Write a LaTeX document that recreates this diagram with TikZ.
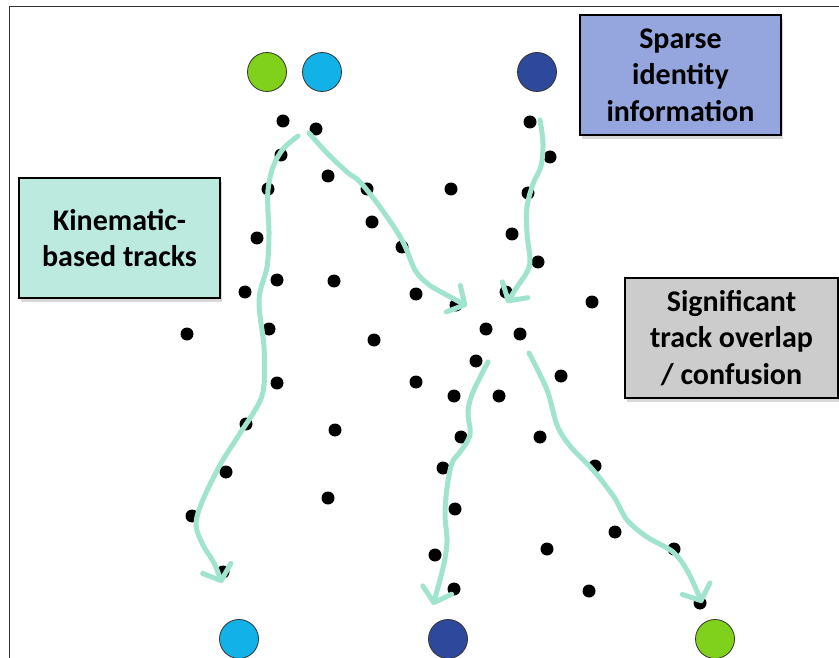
\documentclass[tikz,border=0pt]{standalone}
\usepackage{fontspec}
\setmainfont{Carlito}
\usepackage{xcolor}
\usepackage{tikz}
\usetikzlibrary{shapes,arrows.meta,positioning,shadows,calc}
\definecolor{trackcolor}{RGB}{160,228,208}
\definecolor{idgreen}{RGB}{127,209,27}
\definecolor{idcyan}{RGB}{18,178,232}
\definecolor{idblue}{RGB}{46,73,156}
\definecolor{kinecolor}{RGB}{189,234,223}
\definecolor{sparsecolor}{RGB}{149,166,222}
\definecolor{overlapcolor}{RGB}{204,204,204}

\begin{document}
\begin{tikzpicture}[x=1pt, y=-1pt,
  dot/.style={circle, fill=black, inner sep=0pt, minimum size=13pt},
  ident/.style={circle, draw=black!80, line width=0.8pt, inner sep=0pt, minimum size=39pt},
  infobox/.style={rectangle, draw=black, line width=1.8pt, minimum width=201pt, minimum height=120pt, align=center,
    font=\bfseries\fontsize{30}{36.6}\selectfont, drop shadow={shadow xshift=2pt, shadow yshift=-4pt, opacity=0.3}},
  track/.style={draw=trackcolor, line width=5pt, line cap=round, line join=round,
    -{Straight Barb[length=13pt, width=30pt, round]}}
]

% Canvas and frame
\clip (0,0) rectangle (839,658);
\fill[white] (0,0) rectangle (839,658);
\draw[black!80, line width=1pt] (9.5,6.5) rectangle (870,690);

% Observations
\foreach [count=\i] \px/\py in {283/121, 316/129, 281/155, 328/176, 268/189, 367/189, 451/189, 372/222,
  257/238, 402/247, 277/280, 334/281, 245/292, 187/334, 269/329, 416/294, 456/305, 530/122, 550/157,
  528/193, 512/234, 538/262, 506/292, 592/302, 486/329, 520/334, 374/340, 476/361, 561/376, 277/383,
  416/382, 454/396, 499/396, 246/424, 335/430, 461/437, 540/437, 226/472, 443/468, 595/466, 328/498,
  455/509, 615/532, 192/516, 435/555, 547/549, 674/549, 223/572, 454/589, 589/591, 700/603}
  \node[dot] (dot\i) at (\px,\py) {};

% Identities at start and end
\node[ident, fill=idgreen] (startgreen) at (267,72) {};
\node[ident, fill=idcyan] (startcyan) at (322,72) {};
\node[ident, fill=idblue] (startblue) at (537,72) {};
\node[ident, fill=idcyan] (endcyan) at (239,639) {};
\node[ident, fill=idblue] (endblue) at (448,639) {};
\node[ident, fill=idgreen] (endgreen) at (715,639) {};

% Tracks
\draw[track] plot[smooth, tension=0.55] coordinates {(298,136) (283,149) (273,167) (268,190) (268,212)
  (269,235) (267,267) (259,300) (264,347) (264,385) (258,405) (237,438) (220,465) (202,502) (196,525)
  (203,545) (214,563) (222,583)};
\draw[track] plot[smooth, tension=0.55] coordinates {(309,133) (327,153) (347,172) (360,182) (380,207)
  (402,240) (415,270) (428,284) (443,293) (467,306)};
\draw[track] plot[smooth, tension=0.55] coordinates {(540,120) (543,143) (541,166) (533,184) (527,207)
  (527,233) (530,260) (527,272) (517,287) (507,303)};
\draw[track] plot[smooth, tension=0.55] coordinates {(488,362) (473,392) (468,412) (470,435) (460,452)
  (452,463) (447,488) (445,515) (447,542) (443,568) (433,605)};
\draw[track] plot[smooth, tension=0.55] coordinates {(529,353) (547,390) (557,425) (570,446) (593,470)
  (614,497) (627,520) (647,537) (673,552) (688,572) (702,603)};

% Labels
\node[infobox, fill=kinecolor] (kinematic) at (119.5,238) {Kinematic-\\based tracks};
\node[infobox, fill=sparsecolor] (sparse) at (680.5,75) {Sparse\\identity\\information};
\node[infobox, fill=overlapcolor, minimum width=213pt] (overlap) at (731.5,338) {Significant\\track overlap\\/ confusion};

\end{tikzpicture}
\end{document}
